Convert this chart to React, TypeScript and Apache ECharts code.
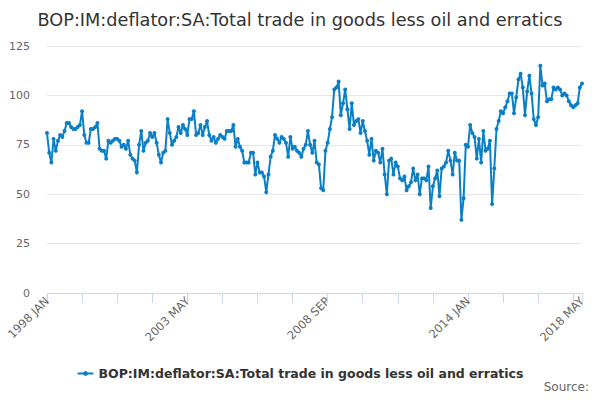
import { useEffect, useRef } from 'react';
import * as echarts from 'echarts';

const seriesName = 'BOP:IM:deflator:SA:Total trade in goods less oil and erratics';
const startYear = 1998;
const monthNames = ['JAN', 'FEB', 'MAR', 'APR', 'MAY', 'JUN', 'JUL', 'AUG', 'SEP', 'OCT', 'NOV', 'DEC'];

// monthly values, 1998 JAN .. 2018 MAY
const values = [
  81, 71, 66, 78, 72, 77, 80, 79, 82, 86, 86, 84,
  83, 83, 84, 85, 92, 80, 76, 76, 83, 83, 84, 86,
  73, 72, 72, 68, 77, 76, 77, 78, 78, 77, 74, 75,
  73, 77, 70, 68, 67, 61, 75, 82, 72, 76, 77, 81,
  79, 81, 76, 70, 66, 71, 72, 88, 81, 75, 77, 79,
  84, 81, 85, 83, 80, 88, 88, 92, 80, 81, 85, 80,
  84, 87, 80, 77, 79, 76, 78, 80, 79, 78, 82, 82,
  82, 85, 74, 78, 74, 72, 66, 66, 66, 71, 71, 60,
  66, 61, 61, 59, 51, 60, 69, 72, 80, 78, 76, 79,
  78, 76, 69, 79, 73, 74, 72, 71, 69, 73, 75, 82,
  75, 71, 77, 66, 65, 53, 52, 72, 76, 83, 89, 103,
  104, 107, 90, 96, 103, 93, 83, 96, 85, 87, 88, 81,
  87, 82, 77, 70, 78, 67, 72, 71, 66, 73, 60, 50,
  67, 68, 60, 66, 64, 58, 57, 59, 52, 54, 56, 63,
  57, 60, 50, 58, 58, 57, 64, 43, 54, 58, 62, 49,
  63, 64, 66, 72, 67, 60, 71, 67, 67, 37, 48, 75,
  74, 85, 81, 79, 68, 78, 66, 82, 72, 73, 77, 45,
  63, 83, 87, 92, 91, 94, 97, 101, 101, 91, 99, 108,
  111, 104, 90, 102, 110, 101, 88, 85, 89, 115, 105, 106,
  97, 98, 98, 104, 103, 104, 103, 100, 101, 100, 97, 95,
  94, 95, 96, 104, 106,
];

const categories = values.map(
  (_, i) => `${startYear + Math.floor(i / 12)} ${monthNames[i % 12]}`
);

const yTicks = [0, 25, 50, 75, 100, 125];
const lastIndex = categories.length - 1;

export default function App() {
  const ref = useRef<HTMLDivElement>(null);

  useEffect(() => {
    if (!ref.current) return;
    const chart = echarts.init(ref.current, null, { renderer: 'svg' });
    const font = '"DejaVu Sans", sans-serif';
    chart.setOption({
      animation: false,
      title: {
        text: seriesName,
        left: 'center',
        top: 6,
        textStyle: { fontFamily: font, fontSize: 17.7, fontWeight: 'normal', color: '#333333' },
      },
      grid: { left: 47, right: 18, top: 46, bottom: 107 },
      xAxis: {
        type: 'category',
        data: categories,
        boundaryGap: false,
        axisLine: { lineStyle: { color: '#ccd6eb' } },
        axisTick: {
          interval: (i: number) => i % 16 === 0 || i === lastIndex,
          length: 10,
          lineStyle: { color: '#ccd6eb' },
        },
        axisLabel: {
          interval: (i: number) => i % 64 === 0 || i === lastIndex,
          rotate: 45,
          color: '#666666',
          fontFamily: font,
          fontSize: 11.5,
          margin: 6,
        },
        splitLine: { show: false },
      },
      yAxis: {
        type: 'value',
        min: yTicks[0],
        max: yTicks[yTicks.length - 1],
        interval: 25,
        axisLine: { show: false },
        axisTick: { show: false },
        axisLabel: { color: '#666666', fontFamily: font, fontSize: 11, margin: 17 },
        splitLine: { lineStyle: { color: '#e6e6e6' } },
      },
      legend: {
        bottom: 15,
        left: 'center',
        itemWidth: 16,
        itemHeight: 6,
        itemGap: 5,
        textStyle: { fontFamily: font, fontSize: 12.5, fontWeight: 'bold', color: '#333333' },
        data: [seriesName],
      },
      graphic: [
        {
          type: 'text',
          right: 11,
          top: 381,
          style: { text: 'Source:', fill: '#666666', font: `12px ${font}` },
        },
      ],
      series: [
        {
          name: seriesName,
          type: 'line',
          data: values,
          symbol: 'circle',
          symbolSize: 4,
          showSymbol: true,
          showAllSymbol: true,
          lineStyle: { width: 2, color: '#0b7fc6' },
          itemStyle: { color: '#0b7fc6' },
        },
      ],
    });
    return () => chart.dispose();
  }, []);

  return <div ref={ref} style={{ width: 600, height: 400, margin: -8 }} />;
}
